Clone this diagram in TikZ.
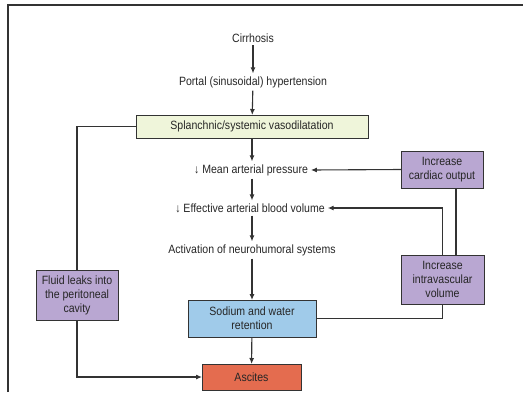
\documentclass[tikz,border=0pt]{standalone}
\usepackage{fontspec}
\setmainfont[FakeStretch=0.88]{Liberation Sans}
\usetikzlibrary{arrows.meta}

\definecolor{greenbox}{HTML}{EFF5DA}
\definecolor{bluebox}{HTML}{A0CBEA}
\definecolor{redbox}{HTML}{E46C4F}
\definecolor{purplebox}{HTML}{B9A7D2}
\definecolor{linegray}{HTML}{333333}

\begin{document}
\begin{tikzpicture}[x=1pt, y=-1pt,
        every node/.style={font=\fontsize{12}{14}\selectfont, text=black!85, align=center, inner sep=1pt, outer sep=2pt},
        box/.style={draw=linegray, line width=0.9pt, inner sep=2pt, outer sep=0pt},
        arr/.style={draw=linegray, line width=1.1pt, -{Latex[length=6pt,width=5pt]}},
        ln/.style={draw=linegray, line width=1.1pt}]

        \useasboundingbox (0,0) rectangle (523,392);
        % cornice
        \draw[line width=1.5pt, black!80] (8,392) -- (8,5) -- (523,5);

        % Posizioni dei nodi
        \node (cirrhosis) at (253,38) {Cirrhosis};
        \node (portal) at (253,82) {Portal (sinusoidal) hypertension};
        \node[box, fill=greenbox, minimum width=232, minimum height=23] (splanchnic) at (252,126.5) {Splanchnic/systemic vasodilatation};
        \node (mean) at (251,170) {↓ Mean arterial pressure};
        \node (effective) at (250,208) {↓ Effective arterial blood volume};
        \node (activation) at (252,250) {Activation of neurohumoral systems};
        \node[box, fill=bluebox, minimum width=128, minimum height=37] (sodium) at (252,318.5) {Sodium and water\\retention};
        \node[box, fill=redbox, minimum width=99, minimum height=26] (ascites) at (251.5,377) {Ascites};
        \node[box, fill=purplebox, minimum width=82, minimum height=37] (cardiac) at (442,169.5) {Increase\\cardiac output};
        \node[box, fill=purplebox, minimum width=83, minimum height=49] (intra) at (442.5,279.5) {Increase\\intravascular\\volume};
        \node[box, fill=purplebox, minimum width=82, minimum height=50] (fluid) at (77,295) {Fluid leaks into\\the peritoneal\\cavity};

        % Archi
        \draw[arr] (cirrhosis) -- (portal);
        \draw[arr] (portal) -- (splanchnic);
        \draw[arr] (splanchnic) -- (splanchnic.south |- mean.north);
        \draw[arr] (splanchnic.south |- mean.south) -- (splanchnic.south |- effective.north);
        \draw[arr] (splanchnic.south |- effective.south) -- (splanchnic.south |- activation.north);
        \draw[arr] (splanchnic.south |- activation.south) -- (sodium);
        \draw[arr] (sodium) -- (ascites);
        \draw[arr] (cardiac.west) -- (mean.east);
        \draw[ln] ([xshift=14pt]cardiac.south) -- ([xshift=14pt]cardiac.south |- intra.north);
        \draw[arr] (intra.north) |- (effective.east);
        \draw[ln] (intra.south) |- (sodium.east);
        \draw[ln] (splanchnic.west) -| (fluid.north);
        \draw[arr] (fluid.south) |- (ascites.west);
    \end{tikzpicture}
\end{document}
